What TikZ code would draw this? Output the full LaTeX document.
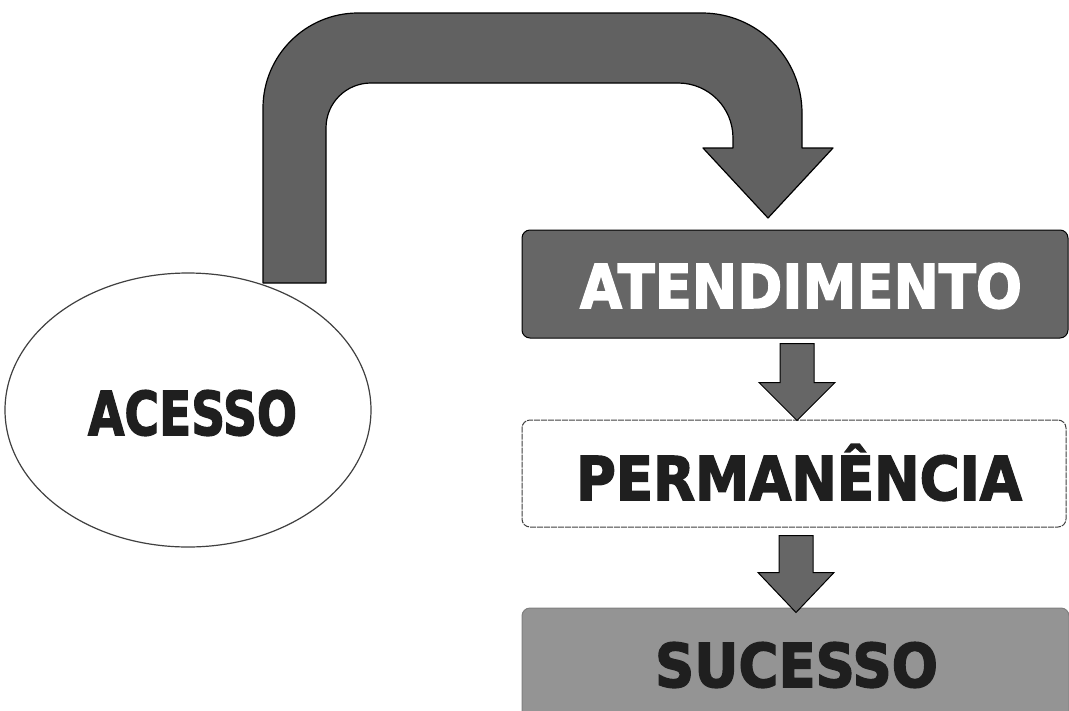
\documentclass[tikz,border=0pt]{standalone}
\usepackage{fontspec}
\newfontfamily\hvfont{DejaVu Sans Bold}[FakeBold=2.5]
\usetikzlibrary{shapes.geometric,calc}
\begin{document}
\begin{tikzpicture}[x=1pt,y=-1pt,
  lbl/.style={inner sep=0pt, anchor=base, font=\hvfont\fontsize{60.4pt}{62pt}\selectfont},
  boxshape/.style={rectangle, rounded corners=8pt, inner sep=0pt, line width=1pt},
  bigarrow/.style={fill=black!62, draw=black, line width=1.2pt, line join=round},
  smallarr/.style={fill=black!60, draw=black, line width=1pt, line join=miter},
]
\clip (0,0) rectangle (1069,710);
\fill[white] (0,0) rectangle (1069,710);

% boxes
\node[boxshape, fill=black!60, draw=black, minimum width=546pt, minimum height=108pt] (aten) at (795,284) {};
\node[boxshape, fill=white, draw=black!75, dash pattern=on 6pt off 1pt, minimum width=544pt, minimum height=107pt] (perm) at (794,473.5) {};
\node[boxshape, fill=black!42, draw=black!50, minimum width=547pt, minimum height=118pt] (suc) at (795.5,667) {};

% ellipse
\node[ellipse, draw=black!75, line width=1.2pt, minimum width=366pt, minimum height=274pt, inner sep=0pt] (acesso) at (188,410) {};

% big curved arrow
\draw[bigarrow] (263,283) -- (263,108)
  .. controls (263,55.6) and (305.6,13) .. (358,13)
  -- (702,13)
  .. controls (757.2,13) and (802,57.8) .. (802,113)
  -- (802,148) -- (833,148) -- (768,218) -- (703,148) -- (733,148) -- (733,138)
  .. controls (733,107.6) and (708.6,83) .. (678,83)
  -- (371,83)
  .. controls (346.2,83) and (326,102.8) .. (326,128)
  -- (326,283) -- cycle;

% small arrows
\coordinate (a1) at ($(aten.south)+(2,5)$);
\coordinate (a2) at ($(perm.south)+(2,8)$);
\draw[smallarr] (a1) ++(-17,0) -- ++(34,0) -- ++(0,39) -- ++(21,0) -- ++(-38,38) -- ++(-38,-38) -- ++(21,0) -- cycle;
\draw[smallarr] (a2) ++(-17,0) -- ++(34,0) -- ++(0,37) -- ++(21,0) -- ++(-38,40) -- ++(-38,-40) -- ++(21,0) -- cycle;

% labels
\node[lbl, text=black!88] (acessolbl) at (192.5,435) {\resizebox{209pt}{\height}{ACESSO}};
\node[lbl, text=white] (atenlbl) at (801,308) {\resizebox{442pt}{\height}{ATENDIMENTO}};
\node[lbl, text=black!88] (permlbl) at (799,500) {\resizebox{446pt}{\height}{PERMANÊNCIA}};
\node[lbl, text=black!88] (suclbl) at (796.5,687) {\resizebox{283pt}{\height}{SUCESSO}};
\end{tikzpicture}
\end{document}
